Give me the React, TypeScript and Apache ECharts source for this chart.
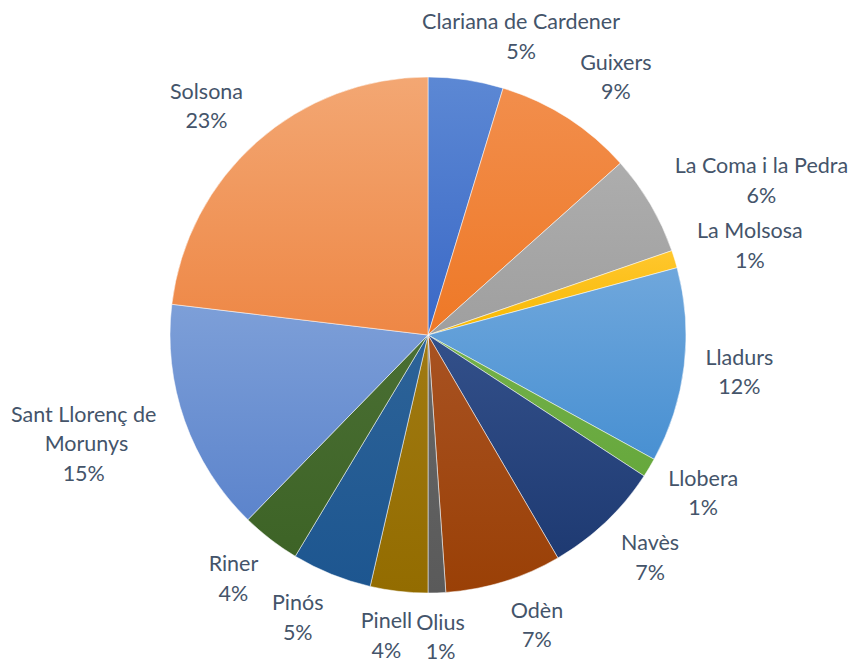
import React, { useEffect, useRef } from 'react';
import * as echarts from 'echarts';

const categories = [
  'Clariana de Cardener', 'Guixers', 'La Coma i la Pedra', 'La Molsosa', 'Lladurs', 'Llobera',
  'Navès', 'Odèn', 'Olius', 'Pinell', 'Pinós', 'Riner', 'Sant Llorenç de Morunys', 'Solsona',
];
const values = [4.7, 8.7, 6.3, 1.1, 12.2, 1.2, 7.4, 7.3, 1.1, 3.6, 5.0, 3.7, 14.6, 23.1];

const topColors = [
  '#5C88D4', '#F28E4C', '#ADADAD', '#FFC72E', '#6FA7DC', '#74B04B', '#33508A',
  '#A85222', '#676767', '#A07A12', '#2D6398', '#4A6F33', '#7D9FD8', '#F3A773',
];
const bottomColors = [
  '#3A68C6', '#EE7826', '#9F9F9F', '#F7B800', '#4890D2', '#66A83C', '#1E3A72',
  '#9A4006', '#5A5A5A', '#936C00', '#1D5690', '#3D6326', '#5C84CC', '#EE8745',
];

const CX = 428;
const CY = 335;
const R = 258;
const GAP = 18;

const clamp = (v: number, lo: number, hi: number) => Math.max(lo, Math.min(hi, v));

export default function App() {
  const ref = useRef<HTMLDivElement>(null);
  useEffect(() => {
    const chart = echarts.init(ref.current!, null, { renderer: 'svg' });
    const total = values.reduce((a, b) => a + b, 0);
    const mids: number[] = [];
    let acc = 0;
    values.forEach((v) => {
      mids.push(((acc + v / 2) / total) * 2 * Math.PI);
      acc += v;
    });
    chart.setOption({
      animation: false,
      series: [
        {
          type: 'pie',
          center: [CX, CY],
          radius: R,
          startAngle: 90,
          clockwise: true,
          percentPrecision: 2,
          data: categories.map((name, i) => ({
            name,
            value: values[i],
            itemStyle: {
              color: new echarts.graphic.LinearGradient(0, 0, 0, 1, [
                { offset: 0, color: topColors[i] },
                { offset: 1, color: bottomColors[i] },
              ]),
            },
            label: name.length > 20 && name.startsWith('Sant') ? { width: 160, overflow: 'break' } : undefined,
          })),
          itemStyle: { borderColor: 'rgba(255,255,255,0.85)', borderWidth: 0.6 },
          label: {
            show: true,
            position: 'outside',
            formatter: (p: any) => `${p.name}\n${Math.round(p.percent)}%`,
            color: '#44546A',
            fontSize: 21.5,
            fontFamily: 'Lato',
            lineHeight: 29.5,
            align: 'center',
            overflow: 'none',
          },
          labelLine: { show: false },
          labelLayout: (p: any) => {
            const a = mids[p.dataIndex];
            const sx = Math.sin(a);
            const sy = -Math.cos(a);
            const w = p.labelRect.width / 2;
            const h = p.labelRect.height / 2 - 6;
            const fx = clamp(3.6 * sx, -1.05, 1.1);
            const fy = clamp(1.3 * sy, -1.1, 1.1);
            return {
              x: CX + (R + GAP) * sx + w * fx,
              y: CY + (R + GAP) * sy + h * fy,
              align: 'center',
              verticalAlign: 'middle',
            };
          },
        },
      ],
    });
    return () => chart.dispose();
  }, []);
  return (
    <div
      ref={ref}
      style={{ position: 'fixed', left: 0, top: 0, width: 853, height: 664, background: '#fff' }}
    />
  );
}
